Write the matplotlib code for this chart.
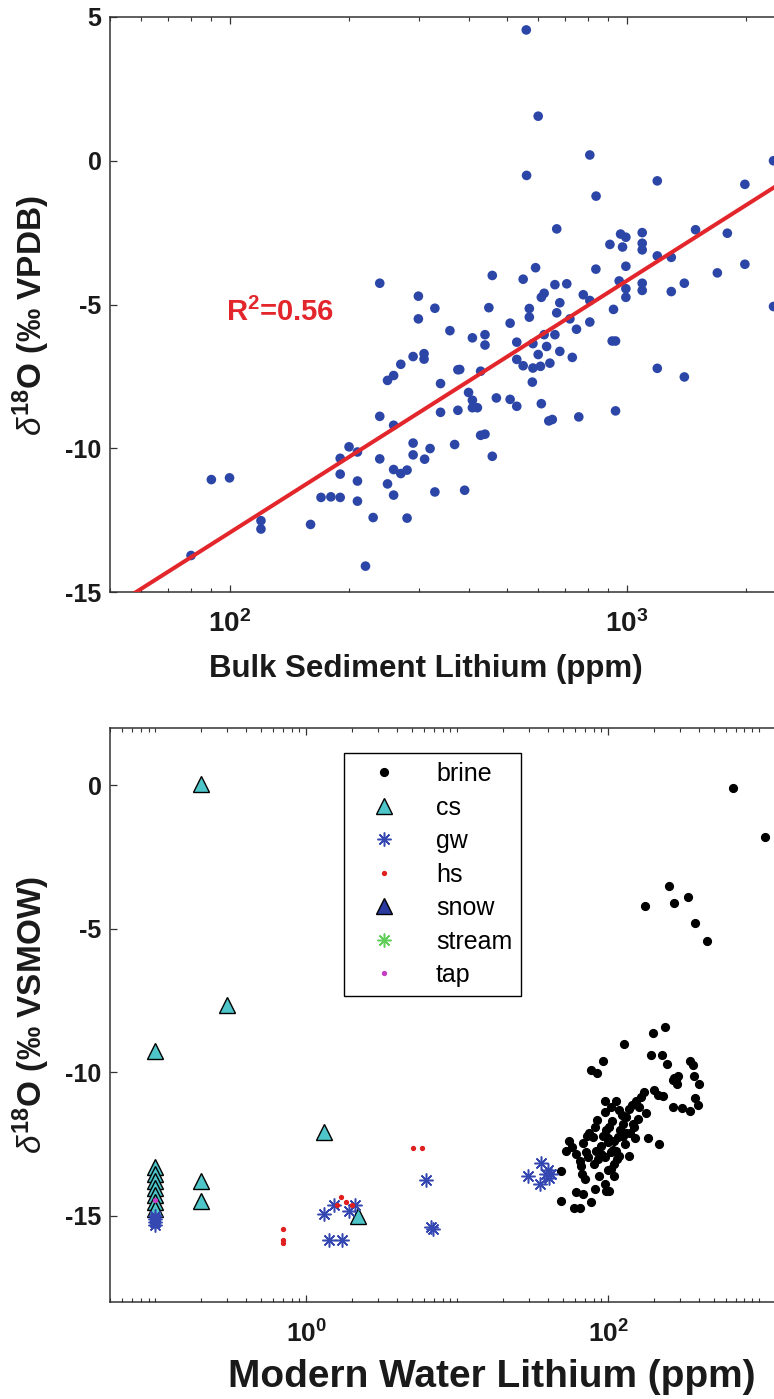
import numpy as np
import matplotlib
matplotlib.use("Agg")
import matplotlib.pyplot as plt
from matplotlib.ticker import FixedLocator, LogLocator, FuncFormatter, NullFormatter

plt.rcParams['font.family'] = ['Liberation Sans', 'DejaVu Sans']
plt.rcParams['mathtext.fontset'] = 'custom'
plt.rcParams['mathtext.rm'] = 'Liberation Sans'
plt.rcParams['mathtext.bf'] = 'Liberation Sans:bold'
plt.rcParams['mathtext.it'] = 'Liberation Sans:italic'
plt.rcParams['axes.unicode_minus'] = False

# --- top panel: bulk sediment Li vs d18O (carbonate) ---
sed_li = [559, 599, 808, 560, 1195, 1986, 838, 667, 1492, 1794,
          908, 966, 996, 977, 1095, 1095, 1095, 1195, 1296, 1986,
          1693, 1398, 1296, 996, 837, 590, 459, 549, 660, 707,
          778, 808, 958, 996, 996, 1095, 1095, 610, 620, 679,
          450, 569, 569, 667, 720, 927, 808, 748, 509, 359,
          409, 440, 440, 529, 620, 660, 581, 629, 599, 679,
          730, 920, 938, 529, 549, 581, 607, 641, 380, 429,
          579, 1195, 1398, 400, 409, 421, 409, 470, 509, 529,
          610, 637, 650, 758, 938, 429, 440, 369, 459, 391,
          340, 340, 376, 239, 299, 329, 299, 290, 309, 309,
          270, 259, 250, 376, 239, 259, 200, 210, 190, 239,
          290, 290, 320, 310, 190, 210, 259, 270, 280, 250,
          259, 329, 170, 180, 190, 210, 90, 100, 120, 120,
          160, 230, 280, 80, 220, 2345, 2345]
sed_d18o = [4.55, 1.55, 0.20, -0.51, -0.70, -0.82, -1.23, -2.37, -2.40, -2.52,
            -2.91, -2.55, -2.66, -3.00, -2.50, -2.87, -3.10, -3.31, -3.36, -3.60,
            -3.90, -4.26, -4.55, -3.67, -3.77, -3.72, -3.99, -4.12, -4.31, -4.28,
            -4.66, -4.86, -4.18, -4.45, -4.75, -4.26, -4.51, -4.75, -4.61, -4.94,
            -5.11, -5.14, -5.44, -5.29, -5.50, -5.17, -5.61, -5.86, -5.65, -5.91,
            -6.16, -6.05, -6.41, -6.31, -6.05, -6.05, -6.36, -6.46, -6.74, -6.63,
            -6.84, -6.27, -6.27, -6.91, -7.13, -7.21, -7.15, -7.04, -7.26, -7.32,
            -7.70, -7.22, -7.52, -8.06, -8.33, -8.59, -8.59, -8.25, -8.30, -8.54,
            -8.45, -9.05, -9.00, -8.91, -8.70, -9.55, -9.51, -9.87, -10.28, -11.46,
            -7.75, -8.75, -8.68, -4.26, -4.71, -5.13, -5.50, -6.81, -6.71, -6.90,
            -7.08, -7.47, -7.64, -7.27, -8.89, -9.20, -9.95, -10.13, -10.35, -10.37,
            -9.82, -10.23, -10.01, -10.38, -10.90, -11.14, -10.74, -10.88, -10.76, -11.24,
            -11.63, -11.52, -11.71, -11.69, -11.71, -11.84, -11.09, -11.03, -12.52, -12.81,
            -12.65, -12.41, -12.43, -13.73, -14.10, 0.0, -5.07]

# regression line: d18O = slope*log10(Li) + intercept
fit_slope = 8.76
fit_intercept = -30.46
fit_r2 = 0.56

# --- bottom panel: modern water Li vs d18O ---
brine_li = [676, 1101, 252, 176, 271, 340, 379, 455,
            238.5, 199.6, 127, 192.6, 226.8, 246, 93.1, 77.1, 83.7, 347.5,
            364, 275, 282, 270, 290, 285, 369, 398, 200.7, 213,
            230, 379, 393, 270.7, 307.6, 347.5, 172.4, 165.4, 153.2, 143.5,
            138.4, 123.3, 131.6, 94.6, 106.3, 178.5, 157.3, 149.4, 84.6, 81.2,
            97, 125, 115.9, 110, 99.5, 89.9, 79.6, 185, 218.8, 55.4,
            68, 52.7, 61.4, 71.5, 83.2, 89.9, 104.7, 113, 94.6, 73.3,
            64.6, 66.2, 48.8, 110, 104.7, 138.4, 67.3, 87.6, 110, 61.4,
            68, 81.2, 97, 102, 76.4, 59.8, 64.6, 48.8,
            75, 92, 102, 120, 86, 100, 118, 70, 95, 58, 130, 140,
            96, 105, 112, 118, 126, 132, 108, 92, 80, 100, 145, 160, 150, 72, 115]
brine_d18o = [-0.08, -1.79, -3.49, -4.20, -4.10, -3.90, -4.81, -5.42,
              -8.42, -8.61, -9.01, -9.41, -9.41, -9.70, -9.62, -9.91, -10.02, -9.62,
              -9.73, -10.19, -10.28, -10.28, -10.12, -10.40, -10.13, -10.42, -10.61, -10.80,
              -10.83, -10.90, -11.13, -11.21, -11.23, -11.33, -10.69, -10.86, -10.98, -11.12,
              -11.27, -11.50, -11.56, -11.39, -11.68, -11.42, -11.62, -11.91, -11.65, -11.91,
              -12.00, -12.23, -12.26, -12.38, -12.44, -12.55, -12.26, -12.30, -12.49, -12.40,
              -12.47, -12.73, -12.84, -12.79, -12.73, -12.84, -12.79, -12.73, -12.96, -12.96,
              -13.08, -13.25, -13.43, -13.19, -13.37, -12.93, -13.54, -13.60, -13.60, -14.18,
              -14.24, -14.07, -14.13, -14.13, -14.53, -14.73, -14.73, -14.48,
              -12.1, -12.2, -11.9, -12.0, -13.0, -13.4, -12.9, -13.7, -13.9, -12.6, -12.5, -12.1,
              -11.0, -11.2, -11.0, -11.3, -11.8, -12.1, -12.7, -12.9, -13.2, -12.3, -11.8, -11.2,
              -12.3, -12.2, -13.0]

cs_li = [0.2, 0.3, 0.1, 1.31, 0.2, 0.2, 2.2, 0.1, 0.1, 0.1, 0.1, 0.1, 0.1, 0.1]
cs_d18o = [0.05, -7.66, -9.27, -12.06, -13.78, -14.48, -15.0,
           -13.29, -13.53, -13.78, -14.02, -14.27, -14.51, -14.76]

gw_li = [0.1, 0.1, 0.1, 0.1, 1.31, 1.52, 1.91, 2.11, 1.41, 1.72,
         6.23, 6.73, 6.9, 29.4, 36, 39.9, 35.1, 40.8, 38.9, 41.9]
gw_d18o = [-15.0, -15.1, -15.2, -15.3, -14.94, -14.62, -14.83, -14.62, -15.84, -15.84,
           -13.74, -15.38, -15.44, -13.6, -13.17, -13.39, -13.9, -13.68, -13.53, -13.53]

hs_li = [0.704, 0.704, 0.704, 1.705, 1.604, 1.82, 2.01, 5.09, 5.84]
hs_d18o = [-15.44, -15.85, -15.95, -14.34, -14.62, -14.53, -14.62, -12.63, -12.63]

snow_li, snow_d18o = [], []
stream_li, stream_d18o = [], []
tap_li = [0.1]
tap_d18o = [-14.45]

sed_xticks = [1e2, 1e3]
water_xticks = [1e0, 1e2]
yticks = [-15, -10, -5, 0, 5]

W, H = 774, 1399
fig = plt.figure(figsize=(W / 100, H / 100), dpi=100)
fig.patch.set_facecolor('white')


def log_label(v, pos):
    return r'$\mathbf{10^{%d}}$' % int(round(np.log10(v)))


def style_axes(ax, xticks, minor_subs, xsize):
    ax.set_xscale('log')
    ax.xaxis.set_major_locator(FixedLocator(xticks))
    ax.xaxis.set_major_formatter(FuncFormatter(log_label))
    ax.xaxis.set_minor_locator(LogLocator(base=10, subs=minor_subs, numticks=50))
    ax.xaxis.set_minor_formatter(NullFormatter())
    ax.tick_params(which='both', direction='in', top=True, right=True, colors='#333333')
    ax.tick_params(which='major', length=5, width=0.9, labelcolor='#1a1a1a')
    ax.tick_params(axis='y', which='major', labelsize=18, pad=6)
    ax.tick_params(axis='x', which='major', labelsize=xsize, pad=13)
    ax.tick_params(which='minor', length=3, width=0.8)
    for s in ax.spines.values():
        s.set_color('#333333')
        s.set_linewidth(1.1)
    for lab in ax.get_xticklabels() + ax.get_yticklabels():
        lab.set_fontweight('bold')


# ---------- top panel ----------
ax1 = fig.add_axes([110 / W, 1 - 592 / H, 706 / W, 575 / H])
ax1.scatter(sed_li, sed_d18o, s=48, color='#2c46a8', edgecolors='none', zorder=2)
xfit = np.logspace(np.log10(50), np.log10(3000), 50)
ax1.plot(xfit, fit_slope * np.log10(xfit) + fit_intercept, color='#e3262b', lw=2.9, zorder=3)
ax1.set_xlim(50, 3000)
ax1.set_ylim(-15, 5)
ax1.set_yticks(yticks)
style_axes(ax1, sed_xticks, np.arange(2, 10), 20)
ax1.text(97.7, -5.56, r'R$^{\mathbf{2}}$=%.2f' % fit_r2, color='#e3262b',
         fontsize=21, fontweight='bold', ha='left', va='baseline')
ax1.set_xlabel('Bulk Sediment Lithium (ppm)', fontsize=22.5, fontweight='bold', color='#1a1a1a')
ax1.set_ylabel(r'$\delta^{\mathbf{18}}$O (‰ VPDB)', fontsize=24, fontweight='bold', color='#1a1a1a')
ax1.xaxis.set_label_coords(0.4476, -0.108)
ax1.yaxis.set_label_coords(-0.082, 0.48)

# ---------- bottom panel ----------
ax2 = fig.add_axes([110 / W, 1 - 1302 / H, 800 / W, 574 / H])
ax2.plot(brine_li, brine_d18o, 'o', ms=5.6, color='black', mec='black', ls='none', label='brine')
ax2.plot(cs_li, cs_d18o, '^', ms=12, mfc='#4ec5c8', mec='black', mew=1.0, ls='none', label='cs')
ax2.plot(gw_li, gw_d18o, marker=(8, 2, 0), ms=10, color='#3547b0', mew=1.1, ls='none', label='gw')
ax2.plot(hs_li, hs_d18o, 'o', ms=2.8, color='#e02020', ls='none', label='hs')
ax2.plot(snow_li, snow_d18o, '^', ms=12, mfc='#2b3a9e', mec='black', mew=1.0, ls='none', label='snow')
ax2.plot(stream_li, stream_d18o, marker=(8, 2, 0), ms=10, color='#5fcf5a', mew=1.1, ls='none', label='stream')
ax2.plot(tap_li, tap_d18o, 'o', ms=2.8, color='#c43fc4', ls='none', label='tap')
ax2.set_xlim(0.05, 1e4)
ax2.set_ylim(-18, 2)
ax2.set_yticks(yticks[:-1])
style_axes(ax2, water_xticks, np.arange(1, 10), 19)
ax2.set_xlabel('Modern Water Lithium (ppm)', fontsize=28, fontweight='bold', color='#1a1a1a')
ax2.set_ylabel(r'$\delta^{\mathbf{18}}$O (‰ VSMOW)', fontsize=24, fontweight='bold', color='#1a1a1a')
ax2.xaxis.set_label_coords(0.4775, -0.0993)
ax2.yaxis.set_label_coords(-0.0725, 0.5)

leg = ax2.legend(loc='upper left', bbox_to_anchor=(0.2925, 0.9564), borderaxespad=0,
                 frameon=True, fancybox=False, edgecolor='black', framealpha=1,
                 prop={'size': 18, 'weight': 'normal'}, handlelength=2.48,
                 handletextpad=0.84, borderpad=0.36, labelspacing=0.38)
leg.get_frame().set_linewidth(1.0)

fig.savefig('out.png', dpi=100, facecolor='white')
